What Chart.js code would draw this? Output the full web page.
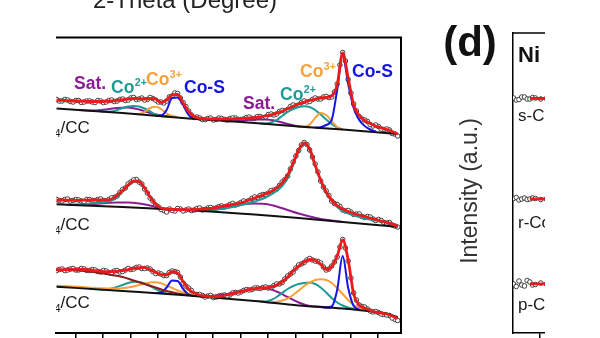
<!DOCTYPE html>
<html>
<head>
<meta charset="utf-8">
<script src="https://cdn.jsdelivr.net/npm/chart.js@4.4.0/dist/chart.umd.min.js"></script>
<style>
  html, body { margin: 0; padding: 0; background: #fff; }
  body { width: 600px; height: 338px; position: relative; overflow: hidden; }
  #panelC { position: absolute; left: 0; top: 0; }
  #wrapD { position: absolute; left: 420px; top: 0; width: 125px; height: 338px; overflow: hidden; }
  #panelD { display: block; }
</style>
</head>
<body>
<canvas id="panelC" width="420" height="338"></canvas>
<div id="wrapD"><canvas id="panelD" width="441" height="338"></canvas></div>
<script>
// Co 2p, binding energy grid (eV) shared by the measured points and the fit envelopes
const energy = [
  804.2, 803.7, 803.2, 802.7, 802.2, 801.7, 801.2, 800.7, 800.2, 799.7,
  799.2, 798.7, 798.2, 797.7, 797.2, 796.7, 796.2, 795.7, 795.2, 794.7,
  794.2, 793.7, 793.2, 792.7, 792.2, 791.7, 791.2, 790.7, 790.2, 789.7,
  789.2, 788.7, 788.2, 787.7, 787.2, 786.7, 786.2, 785.7, 785.2, 784.7,
  784.2, 783.7, 783.2, 782.7, 782.2, 781.7, 781.2, 780.7, 780.2, 779.7,
  779.2, 778.7, 778.2, 777.7, 777.2, 776.7, 776.2, 775.7, 775.2, 774.7,
  774.2, 773.7, 773.2
];
// second set of measured points, in between the first ones
const energy2 = [
  803.95, 803.45, 802.95, 802.45, 801.95, 801.45, 800.95, 800.45, 799.95, 799.45,
  798.95, 798.45, 797.95, 797.45, 796.95, 796.45, 795.95, 795.45, 794.95, 794.45,
  793.95, 793.45, 792.95, 792.45, 791.95, 791.45, 790.95, 790.45, 789.95, 789.45,
  788.95, 788.45, 787.95, 787.45, 786.95, 786.45, 785.95, 785.45, 784.95, 784.45,
  783.95, 783.45, 782.95, 782.45, 781.95, 781.45, 780.95, 780.45, 779.95, 779.45,
  778.95, 778.45, 777.95, 777.45, 776.95, 776.45, 775.95, 775.45, 774.95, 774.45,
  773.95, 773.45
];
const tickEnergy = [802.5, 800, 797.5, 795, 792.5, 790, 787.5, 785, 782.5, 780, 777.5, 775];
const sampleNames = ['s-Co', 'r-Co', 'p-Co'];

// s-Co3S4/CC (top)
const sRaw = [
  233.5, 232, 233, 231, 232.5, 231, 232, 230.5, 232, 231,
  233, 232, 234, 233, 235.5, 234, 233, 235.5, 233, 231,
  232, 237, 239.5, 230.5, 222, 215.5, 215, 213.5, 215, 213.5,
  214.5, 213, 215, 213.5, 214, 216, 214.5, 216.5, 216, 219,
  219, 222.5, 223.5, 228, 228, 232, 231.5, 235, 234, 236.5,
  236, 249, 280.5, 253.5, 229, 216.5, 213, 208.5, 208, 204,
  204, 199.5, 197
];
const sRaw2 = [
  232, 233.5, 231.5, 232.5, 230.5, 232, 231, 232.5, 230.5, 232.5,
  231.5, 233.5, 232.5, 235, 233.5, 235, 233.5, 234.5, 231, 230,
  236, 240, 235, 226.5, 218, 216, 213.5, 214.5, 213, 215,
  213.5, 214.5, 215, 213.5, 215.5, 214.5, 216.5, 215.5, 218.5, 218,
  221.5, 222, 226.5, 227, 230.5, 231, 233.5, 234, 236, 235.5,
  241, 268, 272, 240, 222, 214, 211.5, 207, 206.5, 203.5,
  203, 199
];
const sFit = [
  233, 232.7, 232.3, 232, 232, 231.7, 231.5, 231.5, 231.5, 231.7,
  232, 232.7, 233.3, 234, 234.5, 234.3, 234, 234.5, 234, 230.5,
  233, 238, 238.5, 230, 221.5, 216.5, 214.7, 214.2, 214, 214,
  214, 214, 214.2, 214.4, 214.7, 215, 215.4, 216, 217, 218.2,
  219.8, 221.8, 224.2, 226.8, 229, 231, 232.5, 234, 235, 235.5,
  237, 248, 280, 255, 228, 217.5, 212.5, 209.5, 207, 205.2,
  203.5, 201.5, 199
];
const sBg = [[804.2, 224.5], [798.2, 220], [792.2, 214.5], [786.2, 210], [782.2, 206.5], [778.2, 203.5], [773.2, 199]];
const sCoS = [[780.7, 205.3], [780.2, 205.8], [779.7, 208], [779.2, 213], [778.7, 243], [778.2, 278], [777.7, 249], [777.2, 225], [776.7, 213], [776.2, 207], [775.7, 203.5], [775.2, 201.5]];
const sCo3 = [[782.2, 206.5], [781.7, 206.2], [781.2, 208.5], [780.7, 215], [780.2, 220], [779.7, 218], [779.2, 212], [778.7, 206], [778.2, 203.5]];
const sCo2 = [[785.7, 209.5], [785.2, 209.5], [784.7, 210.5], [784.2, 213], [783.7, 217], [783.2, 221], [782.7, 224], [782.2, 226], [781.7, 226.7], [781.2, 226], [780.7, 223], [780.2, 218.5], [779.7, 213.5], [779.2, 209], [778.7, 205.5], [778.2, 203.5]];
const sSat = [[789.2, 212.3], [788.2, 211.8], [787.2, 212.5], [786.2, 213.5], [785.2, 213.5], [784.2, 212], [783.2, 209], [782.2, 206.5], [781.2, 205.8]];
const sCoSb = [[795.2, 217.2], [794.7, 217.5], [794.2, 223], [793.7, 235], [793.2, 235.5], [792.7, 228], [792.2, 218], [791.7, 214]];
const sCo3b = [[797.2, 219], [796.7, 219], [796.2, 221], [795.7, 225], [795.2, 226.3], [794.7, 224], [794.2, 219.5], [793.7, 217], [793.2, 216]];
const sCo2b = [[800.2, 221.5], [799.7, 221.3], [799.2, 221.5], [798.7, 223], [798.2, 225], [797.7, 226.5], [797.2, 227], [796.7, 226.5], [796.2, 224.5], [795.7, 221.5], [795.2, 218.5], [794.7, 217], [794.2, 216.6]];
const sSatb = [[802.2, 223], [800.7, 222.5], [799.7, 223.5], [798.7, 225], [797.7, 225.5], [796.7, 223.5], [795.7, 220], [794.7, 217.5], [793.7, 216.3]];

// r-Co3S4/CC (middle)
const rRaw = [
  133.5, 132, 134, 132.5, 133, 131.5, 133.5, 132.5, 134, 132,
  135, 137, 143.5, 149, 153, 151, 144, 135, 128, 123.5,
  121, 122.5, 124.5, 122, 124, 123, 125, 123.5, 125.5, 125,
  127, 127, 129.5, 129, 132, 132.5, 136, 137.5, 138.5, 142.5,
  144, 151, 157, 171, 182.5, 190.5, 183, 169, 152, 142,
  132, 128.5, 123, 122.5, 118.5, 119, 115.5, 116, 112.5, 112.5,
  110, 108, 106
];
const rRaw2 = [
  132.5, 133.5, 132, 133.5, 132, 133.5, 132.5, 133.5, 132.5, 133.5,
  135.5, 140.5, 145, 151, 153.5, 149, 140, 132, 126, 122.5,
  124, 122, 124, 123, 122.5, 124.5, 123, 125, 124.5, 126.5,
  126, 128.5, 128, 130.5, 131.5, 134.5, 135.5, 138.5, 140, 143,
  147.5, 153.5, 164, 177, 188, 188.5, 176, 161, 146, 137.5,
  129.5, 126.5, 122, 121, 119, 116.5, 116.5, 114, 113.5, 110.5,
  110.5, 107
];
const rFit = [
  133, 133, 132.8, 132.7, 132.7, 132.8, 133, 133, 133, 133,
  134, 137.5, 142.5, 148, 152, 151.5, 145, 136, 129, 125,
  124, 123.7, 123.5, 123.3, 123.3, 123.5, 123.8, 124, 124.5, 125.5,
  126.5, 127.5, 128.5, 129.5, 131, 133, 135, 137, 139, 141.5,
  145, 150, 158, 170, 183, 190, 184, 168, 153, 141,
  133, 127.5, 124, 121.5, 119.5, 118, 116.5, 115, 113.5, 112,
  110.5, 109, 106.5
];
const rBg = [[804.2, 128.7], [798.2, 126], [793.7, 123.5], [792.2, 122.8], [786.2, 118.5], [782.2, 115], [778.2, 111], [773.2, 106.3]];
const rCo2 = [[791.2, 122.5], [790.2, 123], [789.2, 124], [788.2, 126], [787.2, 128.5], [786.2, 131.5], [785.2, 135.5], [784.2, 142], [783.7, 147], [783.2, 155], [782.7, 168], [782.2, 182], [781.7, 189], [781.2, 183], [780.7, 167], [780.2, 152], [779.7, 140], [779.2, 132], [778.7, 126], [778.2, 122], [777.7, 119.5], [777.2, 117.5], [776.7, 116], [776.2, 114.5], [775.7, 113.5], [775.2, 112.5], [774.7, 111.5], [774.2, 110.5], [773.7, 109], [773.2, 106.5]];
const rSat = [[792.2, 123], [791.2, 124], [790.2, 125], [789.2, 126], [788.2, 127.5], [787.2, 129], [786.2, 129.5], [785.2, 129], [784.2, 126.5], [783.2, 123], [782.2, 119.5], [781.2, 116.5], [780.2, 114], [779.2, 112.5], [778.2, 111]];
const rCo2b = [[802.2, 127.9], [800.7, 130], [799.7, 131], [799.2, 132.5], [798.7, 136], [798.2, 141.5], [797.7, 147.5], [797.2, 151.5], [796.7, 151], [796.2, 144.5], [795.7, 136], [795.2, 129], [794.7, 125], [794.2, 123.8], [793.2, 123.3]];
const rSatb = [[803.2, 128.3], [802.2, 128.5], [800.7, 129], [799.7, 130], [798.7, 130.5], [797.7, 130.5], [796.7, 129.5], [795.7, 127.5], [794.7, 125], [793.7, 123.5]];

// p-Co3S4/CC (bottom)
const pRaw = [
  62.5, 64, 63, 64.5, 63, 64, 62.5, 63, 61, 62,
  60.5, 62.5, 61.5, 64.5, 64, 66, 64.5, 64, 59.5, 59,
  57.5, 62, 60.5, 50, 45, 39, 38.5, 36, 37.5, 36,
  37.5, 37, 40, 40, 42.5, 43, 45, 44.5, 46, 45.5,
  49, 50.5, 57, 61, 68, 70.5, 74.5, 72, 70, 63,
  67, 76, 93.5, 72, 40, 28, 26, 22, 21.5, 19,
  18, 15, 12.5
];
const pRaw2 = [
  63.5, 62.5, 64, 63, 64.5, 62.5, 63.5, 61.5, 62.5, 60.5,
  62, 61, 63, 63.5, 65.5, 64.5, 65, 61.5, 60, 57.5,
  60.5, 61.5, 56, 47, 42.5, 38.5, 37.5, 37, 35.5, 37,
  38, 38, 40.5, 41, 43.5, 43.5, 45, 45.5, 45, 47.5,
  49, 54, 59, 65, 69, 73, 73, 71.5, 66, 64,
  71, 86, 85, 55, 33, 26.5, 24, 21, 20.5, 18.5,
  17.5, 13.5
];
const pFit = [
  63, 63.3, 63.5, 63.7, 63.7, 63.5, 63, 62.3, 61.7, 61.3,
  61.3, 61.7, 62.3, 63.5, 64.7, 65.3, 65.3, 63.5, 60.5, 58.5,
  58, 61.5, 60, 51.5, 44, 40, 38, 37, 36.5, 36.5,
  37, 38, 39.3, 40.7, 42, 43.3, 44.3, 45, 45.3, 46,
  48, 51, 56, 62, 67, 71, 73.5, 72.5, 69, 63.5,
  66.5, 77, 93, 73, 39, 28, 25, 22.5, 21, 20,
  19, 17, 14.5
];
const pBg = [[804.2, 46.3], [798.2, 42], [792.2, 37.5], [786.2, 32], [782.2, 27.5], [778.2, 24.5], [775.2, 21], [774.2, 19.3], [773.2, 16]];
const pSat0 = [[805.2, 63.5], [804.2, 63], [803.2, 63], [802.2, 62.5], [801.2, 61.5], [800.2, 60], [799.2, 58], [798.2, 56], [797.2, 52.5], [796.2, 49], [795.2, 45.5], [794.2, 42], [793.2, 39.5], [792.2, 37.5]];
const pCo2b = [[801.2, 44.2], [800.2, 43.5], [799.7, 43.5], [799.2, 44.5], [798.7, 46], [798.2, 48], [797.7, 50], [797.2, 51.2], [796.7, 51], [796.2, 49.5], [795.7, 47], [795.2, 44], [794.7, 41.5], [794.2, 39.5], [793.7, 38.7]];
const pCo3b = [[804.2, 47.3], [802.2, 46.2], [800.2, 44.8], [798.7, 44.5], [797.7, 45.5], [797.2, 46.5], [796.7, 48], [796.2, 49.5], [795.7, 50.5], [795.2, 50.8], [794.7, 49.8], [794.2, 47.5], [793.7, 45], [793.2, 42.5], [792.7, 40.5], [792.2, 39], [791.7, 38]];
const pCoSb = [[795.2, 40], [794.7, 40.5], [794.2, 45.5], [793.7, 52.5], [793.2, 52], [792.7, 44], [792.2, 38.5], [791.7, 37]];
const pSat = [[791.2, 36.7], [790.2, 37], [789.2, 38], [788.2, 40], [787.2, 42.5], [786.2, 44.5], [785.2, 44.7], [784.2, 41.5], [783.2, 36], [782.2, 30.5], [781.2, 27], [780.2, 26.2], [779.2, 25.3]];
const pCo2 = [[785.7, 31.5], [785.2, 31.5], [784.7, 33], [784.2, 36], [783.7, 40], [783.2, 44], [782.7, 47], [782.2, 49], [781.7, 50], [781.2, 50.5], [780.7, 49], [780.2, 45.5], [779.7, 40.5], [779.2, 35], [778.7, 30.5], [778.2, 27.5], [777.7, 25.5], [777.2, 24]];
const pCo3 = [[784.7, 30.8], [784.2, 31.3], [783.7, 32.5], [783.2, 34.5], [782.7, 38], [782.2, 42.5], [781.7, 47], [781.2, 50.5], [780.7, 53], [780.2, 53.7], [779.7, 53], [779.2, 50], [778.7, 45], [778.2, 39], [777.7, 33], [777.2, 28], [776.7, 24.5], [776.2, 23]];
const pCoS = [[780.2, 25.9], [779.7, 25.6], [779.2, 26.5], [778.7, 43], [778.2, 77], [777.7, 45], [777.2, 27], [776.7, 23.5]];

// panel (d), Ni 2p, only its left edge is in view
const niEnergy = [889.9, 889.65, 889.4, 889.15, 888.9, 888.65, 888.4, 888.15, 887.9, 887.4, 886.9, 886.4];
const niTicks = [887.5, 885, 882.5, 880, 877.5, 875, 872.5, 870, 867.5, 865, 862.5, 860];
const niRawS = [235, 233, 233.5, 236, 236, 234, 234, 235.5, 235, 234, 234.5, 235];
const niRawR = [134.5, 135.5, 133, 134, 135, 133.5, 134, 135, 134.5, 133.5, 134, 134];
const niRawP = [49, 46.5, 52, 48, 47, 52.5, 51, 48, 48.5, 50, 49, 49.5];
const niFitS = [[888.4, 234.5], [887.9, 234.6], [887.4, 234.5], [886.9, 234.6], [886.4, 234.6]];
const niFitR = [[888.4, 134], [887.9, 134.2], [887.4, 134], [886.9, 134.1], [886.4, 134]];
const niFitP = [[888.4, 49], [887.9, 49.2], [887.4, 49], [886.9, 49.1], [886.4, 49]];

const FONT = '"Liberation Sans", Arial, Helvetica, sans-serif';
const RED = '#ec1a1a', BLUE = '#1414e6', ORANGE = '#f5a23a', TEAL = '#1c9b96', PURPLE = '#8c1c96', MAROON = '#8c1c1c';

const zip = (xs, ys) => xs.map((x, i) => ({ x: x, y: ys[i] }));
const pts = arr => arr.map(p => ({ x: p[0], y: p[1] }));

function curve(data, color, width, order) {
  return {
    data: data, borderColor: color, borderWidth: width, pointRadius: 0,
    fill: false, cubicInterpolationMode: 'monotone', order: order
  };
}
function dots(data) {
  return {
    data: data, showLine: false, pointRadius: 2.3, pointBorderWidth: 0.9,
    pointBorderColor: '#2e2e2e', pointBackgroundColor: '#fff', order: 5
  };
}

function ion(ctx, base, sup, x, y, color) {
  ctx.fillStyle = color;
  ctx.font = 'bold 17.5px ' + FONT;
  ctx.fillText(base, x, y);
  if (sup) {
    const w = ctx.measureText(base).width;
    ctx.font = 'bold 10.5px ' + FONT;
    ctx.fillText(sup, x + w + 0.5, y - 7.5);
  }
}

// "x-Co3S4/CC" with subscripts
function sampleLabel(ctx, prefix, x, y, slashAt) {
  const parts = [[prefix, 0], ['3', 1], ['S', 0], ['4', 1], ['/CC', 0]];
  ctx.fillStyle = '#1a1a1a';
  ctx.textAlign = 'left';
  const widths = parts.map(p => {
    ctx.font = (p[1] ? '11px ' : '17px ') + FONT;
    return ctx.measureText(p[0]).width;
  });
  if (slashAt !== undefined) {
    x = slashAt - widths.slice(0, 4).reduce((a, b) => a + b, 0);
  }
  let w = 0;
  parts.forEach((p, i) => {
    ctx.font = (p[1] ? '11px ' : '17px ') + FONT;
    ctx.fillText(p[0], x + w, p[1] ? y + 4 : y);
    w += widths[i];
  });
}

const panelCDecor = {
  id: 'panelCDecor',
  afterDraw(chart) {
    const { ctx, chartArea: a } = chart;
    ctx.save();
    ctx.strokeStyle = '#000';
    ctx.lineWidth = 2;
    ctx.beginPath();
    ctx.moveTo(a.left, a.top + 0.5);
    ctx.lineTo(a.right, a.top + 0.5);
    ctx.lineTo(a.right, a.bottom + 1);
    ctx.stroke();

    // x title of the panel above, mostly cut off
    ctx.fillStyle = '#222';
    ctx.font = '24px ' + FONT;
    ctx.textAlign = 'center';
    ctx.fillText('2-Theta (Degree)', 185, 8);

    ctx.textAlign = 'left';
    ion(ctx, 'Sat.', '', 74, 88.5, PURPLE);
    ion(ctx, 'Co', '2+', 111, 93, TEAL);
    ion(ctx, 'Co', '3+', 146, 85, ORANGE);
    ion(ctx, 'Co-S', '', 184, 93, BLUE);
    ion(ctx, 'Sat.', '', 243, 109, PURPLE);
    ion(ctx, 'Co', '2+', 280, 100, TEAL);
    ion(ctx, 'Co', '3+', 300, 77, ORANGE);
    ion(ctx, 'Co-S', '', 352, 77, BLUE);

    ctx.beginPath();
    ctx.rect(a.left, 0, 400, 338);
    ctx.clip();
    [133, 230, 308].forEach((b, i) => sampleLabel(ctx, sampleNames[i], 0, b, 60.5));
    ctx.restore();
  }
};

new Chart(document.getElementById('panelC'), {
  type: 'line',
  data: {
    datasets: [
      curve(zip(energy, sFit), RED, 2.8, 0),
      curve(pts(sBg), '#111', 2, 1),
      curve(pts(sCoS), BLUE, 2, 2),
      curve(pts(sCo3), ORANGE, 2, 2),
      curve(pts(sCo2), TEAL, 2, 2),
      curve(pts(sSat), PURPLE, 2, 2),
      curve(pts(sCoSb), BLUE, 2, 2),
      curve(pts(sCo3b), ORANGE, 2, 2),
      curve(pts(sCo2b), TEAL, 2, 2),
      curve(pts(sSatb), PURPLE, 2, 2),
      dots(zip(energy, sRaw)),
      dots(zip(energy2, sRaw2)),

      curve(zip(energy, rFit), RED, 2.8, 0),
      curve(pts(rBg), '#111', 2, 1),
      curve(pts(rCo2), TEAL, 2, 2),
      curve(pts(rSat), PURPLE, 2, 2),
      curve(pts(rCo2b), TEAL, 2, 2),
      curve(pts(rSatb), PURPLE, 2, 2),
      dots(zip(energy, rRaw)),
      dots(zip(energy2, rRaw2)),

      curve(zip(energy, pFit), RED, 2.8, 0),
      curve(pts(pBg), '#111', 2, 1),
      curve(pts(pSat0), MAROON, 2, 2),
      curve(pts(pCoS), BLUE, 2, 2),
      curve(pts(pCo3), ORANGE, 2, 2),
      curve(pts(pCo2), TEAL, 2, 2),
      curve(pts(pSat), PURPLE, 2, 2),
      curve(pts(pCoSb), BLUE, 2, 2),
      curve(pts(pCo3b), ORANGE, 2, 2),
      curve(pts(pCo2b), TEAL, 2, 2),
      dots(zip(energy, pRaw)),
      dots(zip(energy2, pRaw2))
    ]
  },
  options: {
    responsive: false,
    animation: false,
    layout: { padding: { left: 56, right: 19, top: 37, bottom: 0 } },
    plugins: { legend: { display: false }, tooltip: { enabled: false } },
    scales: {
      x: {
        type: 'linear', reverse: true, min: 772.9, max: 804.25,
        afterBuildTicks: s => { s.ticks = tickEnergy.map(v => ({ value: v })); },
        ticks: { display: false },
        grid: { drawOnChartArea: false, drawTicks: true, tickLength: 5, color: '#000', lineWidth: 1.5 },
        border: { display: true, color: '#000', width: 2 }
      },
      y: { display: false, min: 0, max: 296 }
    }
  },
  plugins: [panelCDecor]
});

const panelDDecor = {
  id: 'panelDDecor',
  afterDraw(chart) {
    const { ctx, chartArea: a } = chart;
    ctx.save();
    ctx.strokeStyle = '#000';
    ctx.lineWidth = 1.5;
    ctx.beginPath();
    ctx.moveTo(a.left - 0.75, a.top);
    ctx.lineTo(a.right, a.top);
    ctx.stroke();

    ctx.fillStyle = '#111';
    ctx.textAlign = 'center';
    ctx.font = 'bold 42px ' + FONT;
    ctx.fillText('(d)', 50, 56);

    ctx.save();
    ctx.translate(57, 191);
    ctx.rotate(-Math.PI / 2);
    ctx.fillStyle = '#333';
    ctx.font = '23px ' + FONT;
    ctx.fillText('Intensity (a.u.)', 0, 0);
    ctx.restore();

    ctx.textAlign = 'left';
    ctx.fillStyle = '#111';
    ctx.font = 'bold 22px ' + FONT;
    ctx.fillText('Ni 2p', a.left + 5, 61.5);

    [121, 228, 310].forEach((b, i) => sampleLabel(ctx, sampleNames[i], a.left + 5, b));
    ctx.restore();
  }
};

new Chart(document.getElementById('panelD'), {
  type: 'line',
  data: {
    datasets: [
      curve(pts(niFitS), RED, 2.8, 0),
      curve(pts(niFitR), RED, 2.8, 0),
      curve(pts(niFitP), RED, 2.8, 0),
      dots(zip(niEnergy, niRawS)),
      dots(zip(niEnergy, niRawR)),
      dots(zip(niEnergy, niRawP))
    ]
  },
  options: {
    responsive: false,
    animation: false,
    layout: { padding: { left: 93, right: 2, top: 33, bottom: 0 } },
    plugins: { legend: { display: false }, tooltip: { enabled: false } },
    scales: {
      x: {
        type: 'linear', reverse: true, min: 858.5, max: 889.95,
        afterBuildTicks: s => { s.ticks = niTicks.map(v => ({ value: v })); },
        ticks: { display: false },
        grid: { drawOnChartArea: false, drawTicks: true, tickLength: 5, color: '#000', lineWidth: 1.5 },
        border: { display: true, color: '#000', width: 1.5 }
      },
      y: {
        min: 0, max: 300,
        ticks: { display: false },
        grid: { display: false, drawTicks: false },
        border: { display: true, color: '#000', width: 1.5 }
      }
    }
  },
  plugins: [panelDDecor]
});
</script>
</body>
</html>
